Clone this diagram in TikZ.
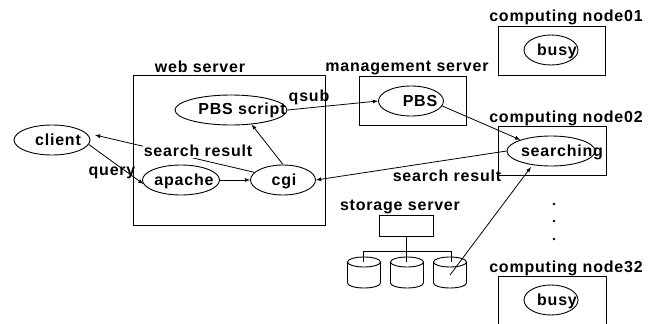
\documentclass[tikz,border=0pt]{standalone}
\usepackage{fontspec}
\setmainfont[LetterSpace=5]{Liberation Sans}
\usetikzlibrary{shapes.geometric}
\def\storagedisk(#1,#2){\draw (#1, #2) ellipse (16.5pt and 5pt); \draw (#1-16.5, #2) -- (#1-16.5, #2+21) arc (180:360:16.5pt and 5pt) -- (#1+16.5, #2);}
\tikzset{
	tag/.style={font=\bfseries\fontsize{16}{18}\selectfont, inner sep=0pt},
	proc/.style={draw, ellipse, inner sep=0pt, minimum width=#1, minimum height=30pt},
	link/.style={-latex, line width=0.8pt}
}

\begin{document}
\begin{tikzpicture}[x=1pt, y=-1pt, line width=0.9pt]
	%%%%% START %%%%%
	\useasboundingbox (0, 0) rectangle (662, 324);

	\node[tag] (webtitle) at (200, 66.5) {web server};
	\node[draw, minimum width=192pt, minimum height=150pt] (webbox) at (229, 150) {};

	\node[tag] (mgmttitle) at (407, 68) {management server};
	\node[draw, minimum width=107pt, minimum height=49pt] (mgmtbox) at (412.5, 100.5) {};

	\node[tag] (title01) at (566, 17) {computing node01};
	\node[draw, minimum width=107pt, minimum height=49pt] (box01) at (551.5, 50.5) {};

	\node[tag] (title02) at (566, 118) {computing node02};
	\node[draw, minimum width=108pt, minimum height=49pt] (box02) at (552, 150.5) {};

	\node[tag] (title32) at (566, 268) {computing node32};
	\coordinate (box32a) at (498, 324);
	\coordinate (box32b) at (498, 276);
	\coordinate (box32c) at (606, 276);
	\coordinate (box32d) at (606, 324);
	\draw (box32a) -- (box32b) -- (box32c) -- (box32d);

	\node[proc=76pt, label={[tag, xshift=6pt]center:client}] (client) at (52, 140) {};
	\node[proc=112pt, label={[tag, xshift=11pt]center:PBS script}] (script) at (231, 110) {};
	\node[proc=77pt, label={[tag, xshift=3pt, yshift=-1pt]center:apache}] (apache) at (181, 180) {};
	\node[proc=65pt, label={[tag, xshift=1pt, yshift=-1pt]center:cgi}] (cgi) at (283, 180) {};
	\node[proc=65pt, label={[tag, xshift=9pt]center:PBS}] (pbs) at (411, 101) {};
	\node[proc=54pt, label={[tag, xshift=6pt, yshift=-1pt]center:busy}] (busy01) at (551, 50) {};
	\node[proc=88pt, label={[tag, xshift=11pt, yshift=-1pt]center:searching}] (searching) at (551, 151) {};
	\node[proc=54pt, label={[tag, xshift=6pt, yshift=-1pt]center:busy}] (busy32) at (551, 300) {};

	\node[tag] (storetitle) at (400, 207) {storage server};
	\node[draw, minimum width=54pt, minimum height=21pt] (store) at (406, 225.5) {};
	\storagedisk(364, 262);
	\storagedisk(407, 262);
	\storagedisk(450, 262);

	\coordinate (bus) at (406, 251);
	\coordinate (busl) at (363, 251);
	\coordinate (busr) at (451, 251);
	\coordinate (drop1) at (363, 262);
	\coordinate (drop2) at (406, 262);
	\coordinate (drop3) at (451, 262);
	\draw (store) -- (drop2);
	\draw (drop1) -- (busl) -- (busr) -- (drop3);

	\coordinate (resulttip) at (95, 135);
	\coordinate (diskhit) at (450, 275);
	\coordinate (searchhit) at (531, 167);

	\draw[link] (cgi.165) -- (resulttip);
	\node[tag, fill=white, inner xsep=1pt, inner ysep=1pt] (result1) at (198, 151) {search result};
	\node[tag] (result2) at (447, 176) {search result};
	\node[tag] (query) at (112, 173) {query};
	\node[tag] (qsub) at (309, 97) {qsub};

	\draw[link] (client.-7) -- (apache.186);
	\draw[link] (apache) -- (cgi);
	\draw[link] (cgi.north) -- (script.-35);
	\draw[link] (script.east) -- (pbs.west);
	\draw[link] (pbs.-9) -- (searching.160);
	\draw[link] (searching.west) -- (cgi.east);
	\draw[link] (diskhit) -- (searchhit);

	\fill (554, 204) circle (1.4);
	\fill (554, 221) circle (1.4);
	\fill (554, 239) circle (1.4);
	%%%%% END %%%%%
\end{tikzpicture}
\end{document}
